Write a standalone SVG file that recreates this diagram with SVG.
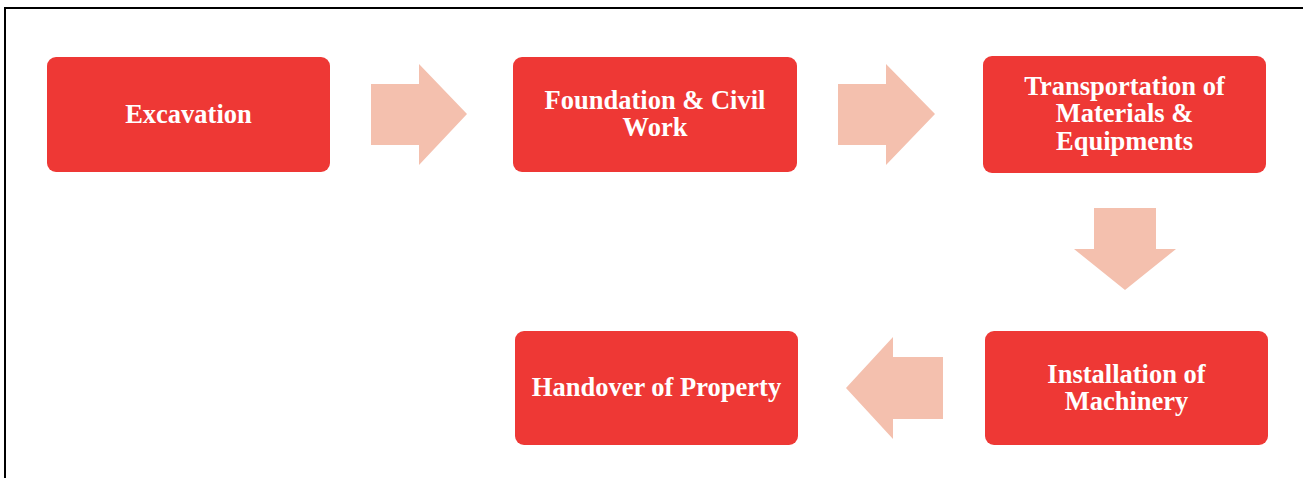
<svg xmlns="http://www.w3.org/2000/svg" width="1303" height="478" viewBox="0 0 1303 478">
<style>
.box{fill:#EE3835;}
.lbl{font-family:"Liberation Serif","Times New Roman",serif;font-weight:bold;font-size:26.5px;fill:#ffffff;text-anchor:middle;}
.arr{fill:#F4C0AE;}
</style>
<rect x="0" y="0" width="1303" height="478" fill="#ffffff"/>
<path d="M5 478 V8 H1303" fill="none" stroke="#000000" stroke-width="2"/>
<g id="connectors">
<polygon class="arr" points="371,84 419,84 419,64 467,114 419,165 419,145 371,145"/>
<polygon class="arr" points="838,84 886,84 886,64 935,114 886,165 886,145 838,145"/>
<polygon class="arr" points="1094,208 1156,208 1156,249 1176,249 1125,290 1074,249 1094,249"/>
<polygon class="arr" points="943,357 893,357 893,337 846,388 893,439 893,419 943,419"/>
</g>
<g id="excavation">
<rect class="box" x="47" y="57" width="283" height="115" rx="9"/>
<text class="lbl" x="188.5" y="122.5">Excavation</text>
</g>
<g id="foundation">
<rect class="box" x="513" y="57" width="284" height="115" rx="9"/>
<text class="lbl" x="655" y="108.5">Foundation &amp; Civil</text>
<text class="lbl" x="655" y="135.5">Work</text>
</g>
<g id="transportation">
<rect class="box" x="983" y="56" width="283" height="117" rx="9"/>
<text class="lbl" x="1124.5" y="94.5">Transportation of</text>
<text class="lbl" x="1124.5" y="122">Materials &amp;</text>
<text class="lbl" x="1124.5" y="149.5">Equipments</text>
</g>
<g id="installation">
<rect class="box" x="985" y="331" width="283" height="114" rx="9"/>
<text class="lbl" x="1126.5" y="382.5">Installation of</text>
<text class="lbl" x="1126.5" y="409.5">Machinery</text>
</g>
<g id="handover">
<rect class="box" x="515" y="331" width="283" height="114" rx="9"/>
<text class="lbl" x="656.5" y="395.5">Handover of Property</text>
</g>
</svg>
